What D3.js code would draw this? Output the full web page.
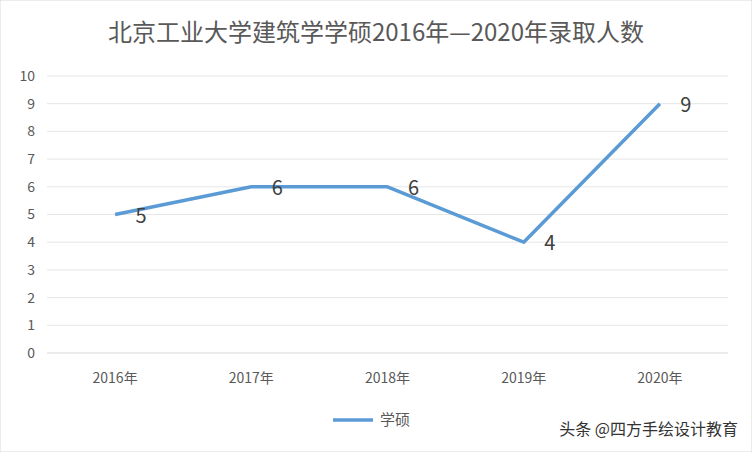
<!DOCTYPE html>
<html><head><meta charset="utf-8">
<script src="https://cdn.jsdelivr.net/npm/d3@7"></script>
<style>body{margin:0;background:#fff}svg{display:block}</style>
</head><body>
<svg width="752" height="452"></svg>
<script>
const years = ['2016年', '2017年', '2018年', '2019年', '2020年'];
const values = [5, 6, 6, 4, 9];
const yTicks = [0, 1, 2, 3, 4, 5, 6, 7, 8, 9, 10];
const seriesName = '学硕';
const title = '北京工业大学建筑学学硕2016年—2020年录取人数';

const svg = d3.select('svg');
const font = '"Microsoft YaHei","Noto Sans CJK SC",sans-serif';
const margins = { left: 47, right: 24, top: 76, bottom: 99 };
const w = 752 - margins.left - margins.right;
const h = 452 - margins.top - margins.bottom;

svg.append('rect').attr('width', 752).attr('height', 452).attr('fill', '#fff').attr('stroke', '#d9d9d9');

svg.append('text').attr('x', 376).attr('y', 41).attr('text-anchor', 'middle')
    .style('font-family', font).style('font-size', '24px').attr('fill', '#595959').text(title);

const mapX = d3.scaleBand().domain(years).range([0, w]);
const mapY = d3.scaleLinear().domain([0, 10]).range([h, 0]);

const g = svg.append('g').attr('transform', `translate(${margins.left},${margins.top})`);

g.selectAll('.grid').data(yTicks).join('line')
    .attr('x1', 0).attr('x2', w)
    .attr('y1', d => mapY(d)).attr('y2', d => mapY(d))
    .attr('stroke', d => d === 0 ? '#d9d9d9' : '#e6e6e6');

g.selectAll('.yl').data(yTicks).join('text')
    .attr('x', -12).attr('y', d => mapY(d)).attr('dy', '0.35em').attr('text-anchor', 'end')
    .style('font-family', font).style('font-size', '14px').attr('fill', '#595959').text(d => d);

g.selectAll('.xl').data(years).join('text')
    .attr('x', d => mapX(d) + mapX.bandwidth() / 2).attr('y', h + 30).attr('text-anchor', 'middle')
    .style('font-family', font).style('font-size', '14px').attr('fill', '#595959').text(d => d);

const line = d3.line().x((d, i) => mapX(years[i]) + mapX.bandwidth() / 2).y(d => mapY(d));
g.append('path').datum(values).attr('d', line).attr('fill', 'none')
    .attr('stroke', '#5b9bd5').attr('stroke-width', 3.5).attr('stroke-linejoin', 'round');

g.selectAll('.dl').data(values).join('text')
    .attr('x', (d, i) => mapX(years[i]) + mapX.bandwidth() / 2 + 26).attr('y', d => mapY(d) + 8)
    .attr('text-anchor', 'middle')
    .style('font-family', font).style('font-size', '20px').attr('fill', '#404040').text(d => d);

svg.append('line').attr('x1', 333).attr('x2', 373).attr('y1', 420).attr('y2', 420)
    .attr('stroke', '#5b9bd5').attr('stroke-width', 3.5);
svg.append('text').attr('x', 380).attr('y', 425).style('font-family', font).style('font-size', '15px')
    .attr('fill', '#595959').text(seriesName);

svg.append('text').attr('x', 738).attr('y', 435).attr('text-anchor', 'end')
    .style('font-family', font).style('font-size', '16px').attr('fill', '#333').text('头条 @四方手绘设计教育');
</script>
</body></html>
